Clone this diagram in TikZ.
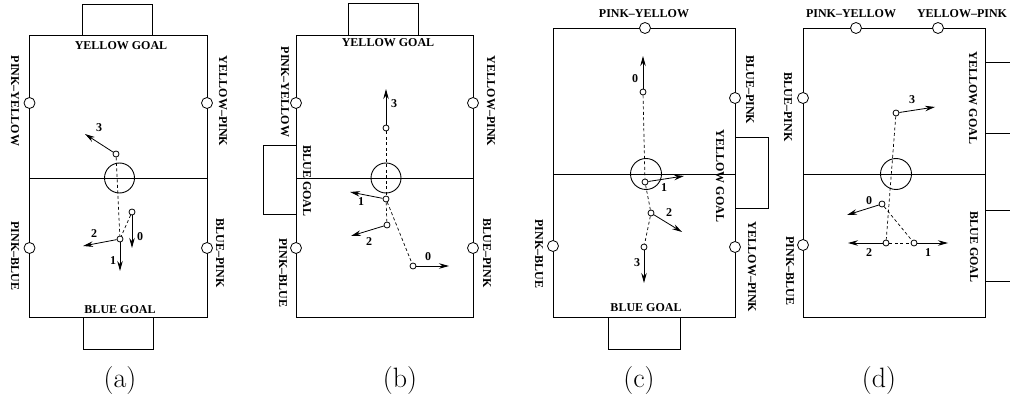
\documentclass[tikz,border=0pt]{standalone}
\usepackage{fontspec}
\usepackage{tikz}
\usetikzlibrary{arrows.meta, positioning}
\newfontfamily\fieldfont{Liberation Serif}

\tikzset{
	fieldline/.style={draw, line width=0.9pt},
	sidemark/.style={circle, draw, fill=white, line width=0.8pt, minimum size=11pt, inner sep=0pt},
	robot/.style={circle, draw, fill=white, line width=0.8pt, minimum size=6pt, inner sep=0pt},
	trail/.style={dashed, line width=0.7pt, dash pattern=on 3pt off 2.5pt},
	move/.style={-{Stealth[length=10pt, width=5.5pt]}, line width=0.8pt},
	tag/.style={font=\fieldfont\bfseries\fontsize{12}{12}\selectfont, inner sep=0pt},
	sidetag/.style={tag, rotate=-90},
	caption/.style={font=\fontsize{28}{30}\selectfont, inner sep=0pt}
}

\begin{document}
\begin{tikzpicture}[x=1pt, y=-1pt]
	\useasboundingbox (0,0) rectangle (1010,401);

	% (a)
	\draw[fieldline] (29.5,35) rectangle (207,317);
	\draw[fieldline] (82,35) |- (152,4) -- (152,35);
	\draw[fieldline] (83,317) |- (153,349) -- (153,317);
	\draw[fieldline] (29.5,178) -- (207,178);
	\draw[fieldline] (119.5,178) circle[radius=15];
	\node[sidemark] (aPY) at (29.5,103) {};
	\node[sidemark] (aYP) at (207,103) {};
	\node[sidemark] (aPB) at (29.5,248) {};
	\node[sidemark] (aBP) at (207,248) {};
	\node[tag] (aYG) at (121,46) {YELLOW GOAL};
	\node[tag] (aBG) at (120,310) {BLUE GOAL};
	\node[sidetag] (aPYt) at (15,101) {PINK–YELLOW};
	\node[sidetag] (aYPt) at (223,101) {YELLOW–PINK};
	\node[sidetag] (aPBt) at (15,256) {PINK–BLUE};
	\node[sidetag] (aBPt) at (220,253) {BLUE–PINK};
	\node[robot] (a3) at (116,154) {};
	\node[robot] (a0) at (132,212) {};
	\node[robot] (a1) at (120,239) {};
	\coordinate (a3e) at (85,134);
	\coordinate (a0e) at (132,248);
	\coordinate (a2e) at (83,246);
	\coordinate (a1e) at (120,271);
	\draw[trail] (a3) -- (a1);
	\draw[trail] (a0) -- (a1);
	\draw[move] (a3) -- (a3e);
	\draw[move] (a0) -- (a0e);
	\draw[move] (a1) -- (a2e);
	\draw[move] (a1) -- (a1e);
	\node[tag] at (99,128) {3};
	\node[tag] at (140,237) {0};
	\node[tag] at (94,234) {2};
	\node[tag] at (113,261) {1};
	\node[caption] (capA) at (120,381) {(a)};

	% (b)
	\draw[fieldline] (296,35) rectangle (473,317);
	\draw[fieldline] (348,35) |- (418,3) -- (418,35);
	\draw[fieldline] (296,145) -| (263,214) -- (296,214);
	\draw[fieldline] (296,178) -- (473,178);
	\draw[fieldline] (386,178) circle[radius=15];
	\node[sidemark] (bPY) at (296,103) {};
	\node[sidemark] (bPB) at (296,248) {};
	\node[sidemark] (bYP) at (473,103) {};
	\node[sidemark] (bBP) at (473,248) {};
	\node[tag] (bYG) at (388,43) {YELLOW GOAL};
	\node[sidetag] (bPYt) at (285,92) {PINK–YELLOW};
	\node[sidetag] (bBG) at (307,181) {BLUE GOAL};
	\node[sidetag] (bPBt) at (283,273) {PINK–BLUE};
	\node[sidetag] (bYPt) at (491,101) {YELLOW–PINK};
	\node[sidetag] (bBPt) at (487,253) {BLUE–PINK};
	\node[robot] (b3) at (386,128) {};
	\node[robot] (b1) at (386,199) {};
	\node[robot] (b2) at (387,225) {};
	\node[robot] (b0) at (413,266) {};
	\coordinate (b3e) at (386,89);
	\coordinate (b1e) at (350,192);
	\coordinate (b2e) at (351,236);
	\coordinate (b0e) at (449,266);
	\draw[trail] (b3) -- (b1);
	\draw[trail] (b1) -- (b2);
	\draw[trail] (b1) -- (b0);
	\draw[move] (b3) -- (b3e);
	\draw[move] (b1) -- (b1e);
	\draw[move] (b2) -- (b2e);
	\draw[move] (b0) -- (b0e);
	\node[tag] at (394,104) {3};
	\node[tag] at (361,202) {1};
	\node[tag] at (369,242) {2};
	\node[tag] at (428,257) {0};
	\node[caption] (capB) at (400,381) {(b)};

	% (c)
	\draw[fieldline] (553,28) rectangle (735,317);
	\draw[fieldline] (735,137) -| (768,208) -- (735,208);
	\draw[fieldline] (608,317) |- (680,349) -- (680,317);
	\draw[fieldline] (553,174) -- (735,174);
	\draw[fieldline] (646,174) circle[radius=15.5];
	\node[sidemark] (cPY) at (645,28) {};
	\node[sidemark] (cBP) at (735,98) {};
	\node[sidemark] (cPB) at (553,246) {};
	\node[sidemark] (cYP) at (735,247) {};
	\node[tag] (cPYt) at (644,14) {PINK–YELLOW};
	\node[sidetag] (cBPt) at (750,90) {BLUE–PINK};
	\node[sidetag] (cYG) at (720,176) {YELLOW GOAL};
	\node[sidetag] (cYPt) at (752,267) {YELLOW–PINK};
	\node[sidetag] (cPBt) at (539,254) {PINK–BLUE};
	\node[tag] (cBG) at (646,308) {BLUE GOAL};
	\node[robot] (c0) at (643,92) {};
	\node[robot] (c1) at (645,182) {};
	\node[robot] (c2) at (651,213) {};
	\node[robot] (c3) at (644,247) {};
	\coordinate (c0e) at (643,56);
	\coordinate (c1e) at (684,176);
	\coordinate (c2e) at (682,232);
	\coordinate (c3e) at (644,283);
	\draw[trail] (c0) -- (c1);
	\draw[trail] (c1) -- (c2);
	\draw[trail] (c2) -- (c3);
	\draw[move] (c0) -- (c0e);
	\draw[move] (c1) -- (c1e);
	\draw[move] (c2) -- (c2e);
	\draw[move] (c3) -- (c3e);
	\node[tag] at (635,79) {0};
	\node[tag] at (664,188) {1};
	\node[tag] at (669,213) {2};
	\node[tag] at (637,263) {3};
	\node[caption] (capC) at (639,381) {(c)};

	% (d)
	\draw[fieldline] (803,28) rectangle (985,317);
	\draw[fieldline] (985,62) -- (1012,62) (985,133) -- (1012,133);
	\draw[fieldline] (985,210) -- (1012,210) (985,281) -- (1012,281);
	\draw[fieldline] (803,174) -- (985,174);
	\draw[fieldline] (896,174) circle[radius=15.5];
	\node[sidemark] (dPY) at (856,28) {};
	\node[sidemark] (dYP) at (938,28) {};
	\node[sidemark] (dBP) at (803,98) {};
	\node[sidemark] (dPB) at (803,245) {};
	\node[tag] (dPYt) at (851,14) {PINK–YELLOW};
	\node[tag] (dYPt) at (962,14) {YELLOW–PINK};
	\node[sidetag] (dBPt) at (788,107) {BLUE–PINK};
	\node[sidetag] (dPBt) at (790,271) {PINK–BLUE};
	\node[sidetag] (dYG) at (973,98) {YELLOW GOAL};
	\node[sidetag] (dBG) at (974,247) {BLUE GOAL};
	\node[robot] (d3) at (896,113) {};
	\node[robot] (d0) at (882,204) {};
	\node[robot] (d2) at (886,243) {};
	\node[robot] (d1) at (914,243) {};
	\coordinate (d3e) at (935,107);
	\coordinate (d0e) at (847,215);
	\coordinate (d2e) at (848,243);
	\coordinate (d1e) at (948,243);
	\draw[trail] (d3) -- (d2);
	\draw[trail] (d0) -- (d1);
	\draw[trail] (d2) -- (d1);
	\draw[move] (d3) -- (d3e);
	\draw[move] (d0) -- (d0e);
	\draw[move] (d2) -- (d2e);
	\draw[move] (d1) -- (d1e);
	\node[tag] at (912,100) {3};
	\node[tag] at (869,201) {0};
	\node[tag] at (869,253) {2};
	\node[tag] at (928,253) {1};
	\node[caption] (capD) at (879,381) {(d)};
\end{tikzpicture}
\end{document}
